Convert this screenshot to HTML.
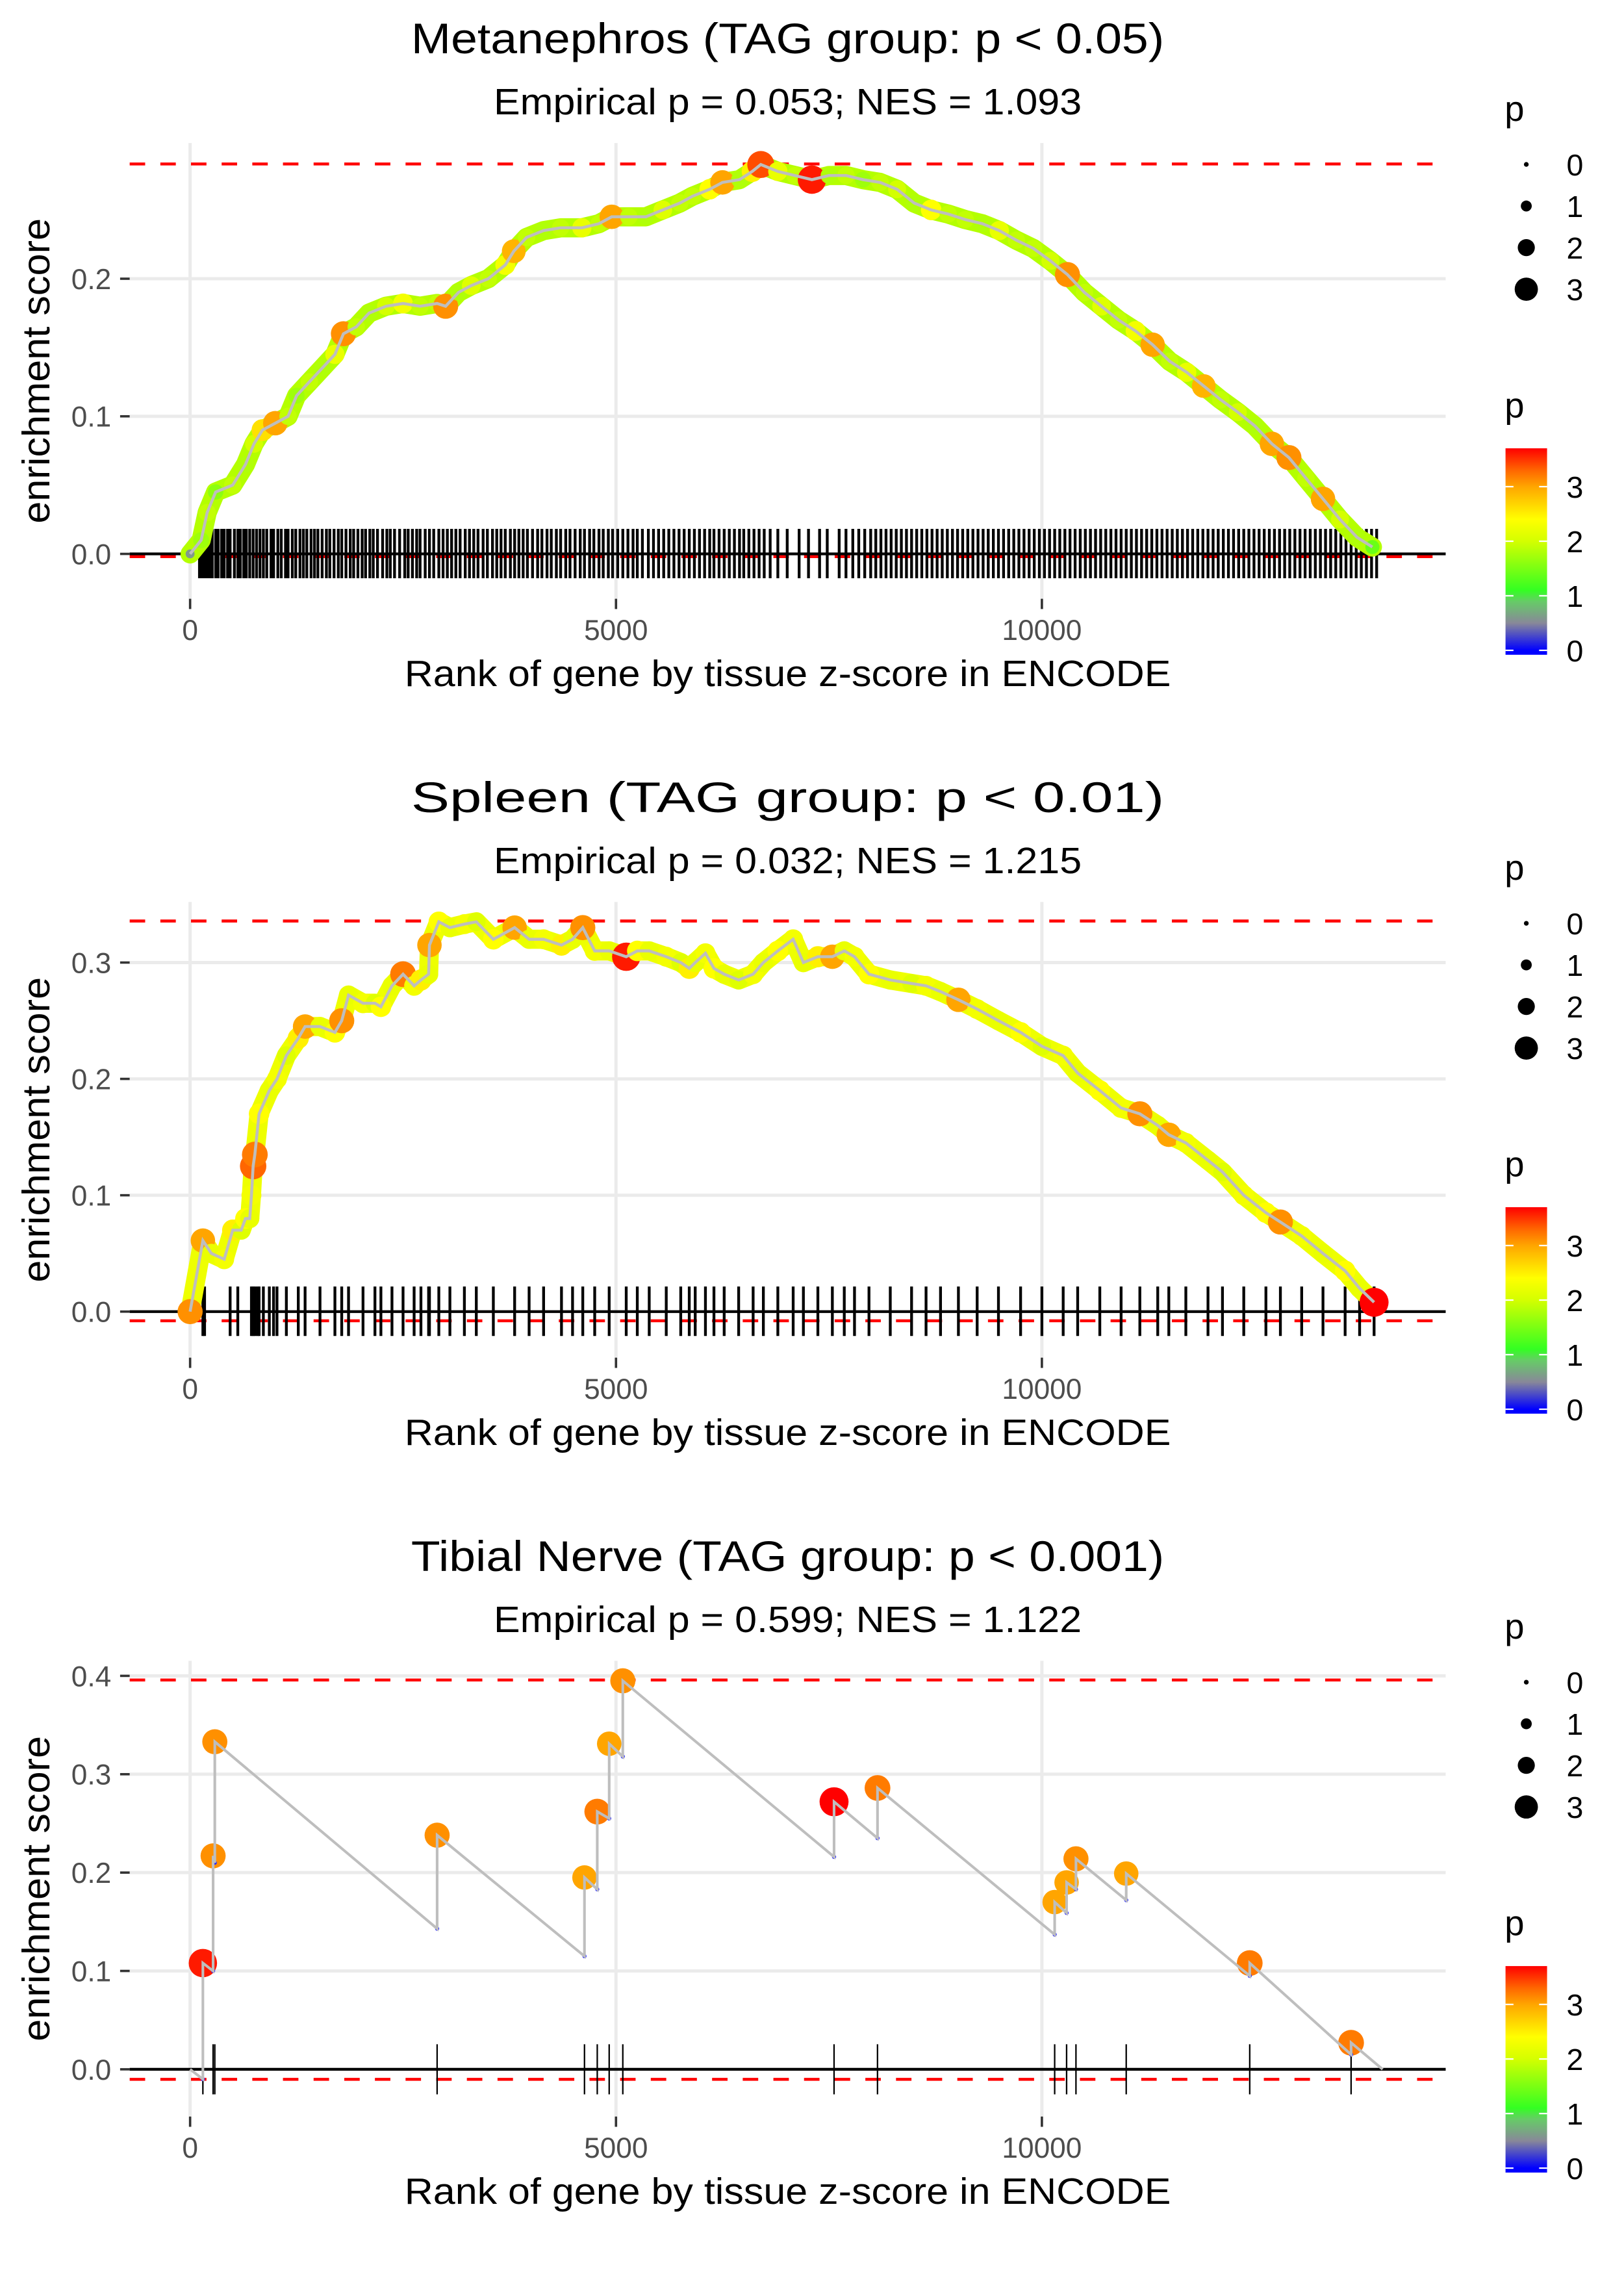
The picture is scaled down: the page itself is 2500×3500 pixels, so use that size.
<!DOCTYPE html>
<html><head><meta charset="utf-8"><title>Enrichment plots</title>
<style>html,body{margin:0;padding:0;background:#fff}svg{display:block}text{font-family:"Liberation Sans",sans-serif}</style>
</head><body>
<svg id="chart" xmlns="http://www.w3.org/2000/svg" width="2500" height="3500" viewBox="0 0 1102 1542" preserveAspectRatio="none"></svg>
<script>
const titles = ["Metanephros (TAG group: p < 0.05)", "Spleen (TAG group: p < 0.01)", "Tibial Nerve (TAG group: p < 0.001)"];
const subtitles = ["Empirical p = 0.053; NES = 1.093", "Empirical p = 0.032; NES = 1.215", "Empirical p = 0.599; NES = 1.122"];
const xTicks = [0, 5000, 10000];
const xTickLabels = ["0", "5000", "10000"];
const yTicks1 = [0.0, 0.1, 0.2];
const yTicks2 = [0.0, 0.1, 0.2, 0.3];
const yTicks3 = [0.0, 0.1, 0.2, 0.3, 0.4];
const esMax = [0.2834, 0.3357, 0.3958];
const esMin = [-0.002, -0.0079, -0.0102];

const ranks1 = [0,130,200,300,500,650,750,850,1000,1150,1250,1400,1550,1700,1800,1950,2100,2300,2500,2700,2900,3000,3150,3300,3500,3700,3800,3950,4150,4350,4600,4800,4950,5150,5350,5550,5750,5900,6100,6250,6450,6600,6700,6900,7100,7300,7500,7700,7900,8100,8300,8500,8700,8900,9100,9300,9500,9700,9900,10100,10300,10500,10700,10900,11100,11300,11500,11700,11900,12100,12300,12500,12700,12900,13100,13300,13500,13700,13880];
const es1 = [0,.01,.03,.045,.05,.065,.08,.09,.095,.1,.115,.125,.135,.145,.16,.165,.175,.18,.182,.18,.182,.18,.19,.195,.2,.21,.22,.23,.235,.237,.237,.24,.245,.245,.245,.25,.255,.26,.265,.27,.272,.278,.283,.278,.275,.272,.275,.275,.272,.27,.265,.255,.25,.247,.243,.24,.235,.228,.222,.213,.203,.19,.18,.17,.162,.152,.14,.132,.122,.112,.103,.093,.08,.07,.055,.04,.025,.012,.005];
const p1 = [0.6,1.7,1.9,1.6,1.9,1.8,2.0,2.6,3.0,1.9,1.7,1.9,1.8,2.2,3.1,1.9,1.8,2.0,2.3,1.9,1.9,3.1,1.8,2.1,1.9,2.3,2.9,1.9,1.8,1.9,2.2,1.9,3.0,1.9,1.8,2.1,1.9,1.9,2.4,3.0,1.8,2.5,3.4,2.2,1.9,3.6,1.8,1.9,1.7,1.9,2.0,1.8,2.4,1.9,1.9,1.8,2.2,1.9,1.9,2.0,3.1,1.9,2.1,1.9,2.3,3.0,1.9,2.2,2.9,1.9,2.0,1.8,3.0,3.1,1.9,3.0,2.0,1.8,1.4];
const rug1 = [110,140,170,200,230,260,300,330,370,400,440,470,520,560,590,630,660,700,740,780,820,860,900,950,980,1030,1070,1120,1150,1200,1240,1290,1330,1370,1420,1460,1500,1550,1600,1640,1690,1740,1780,1830,1880,1920,1970,2020,2060,2110,2150,2200,2260,2310,2350,2400,2460,2520,2560,2610,2660,2700,2760,2810,2860,2920,2970,3020,3070,3120,3170,3230,3280,3330,3380,3440,3490,3550,3600,3650,3700,3760,3810,3860,3910,3960,4020,4080,4130,4190,4240,4300,4350,4410,4460,4520,4580,4630,4690,4740,4800,4850,4910,4960,5020,5080,5140,5200,5250,5310,5380,5440,5500,5560,5620,5680,5740,5800,5860,5920,5980,6040,6100,6150,6210,6270,6330,6390,6450,6500,6560,6620,6680,6740,6810,6900,7010,7150,7260,7390,7480,7620,7700,7780,7850,7920,7990,8050,8110,8170,8230,8290,8350,8410,8470,8530,8590,8650,8710,8770,8830,8890,8950,9010,9070,9130,9190,9250,9310,9370,9430,9490,9550,9610,9670,9730,9790,9850,9910,9970,10030,10090,10150,10210,10270,10330,10390,10450,10510,10570,10630,10690,10750,10810,10870,10930,10990,11050,11110,11170,11230,11290,11350,11410,11470,11530,11590,11650,11710,11770,11830,11890,11950,12010,12070,12130,12190,12250,12310,12370,12430,12490,12550,12610,12670,12730,12790,12850,12910,12970,13030,13090,13150,13210,13270,13330,13390,13450,13510,13570,13630,13690,13750,13810,13870,13930];

const ranks2 = [0,150,250,400,500,600,650,700,720,740,760,810,930,1020,1130,1270,1350,1525,1700,1780,1860,2030,2170,2240,2370,2500,2630,2710,2800,2810,2920,3050,3220,3360,3560,3810,3980,4150,4360,4490,4610,4750,4920,5120,5250,5390,5590,5760,5860,5930,6050,6150,6270,6440,6610,6730,6900,7080,7200,7370,7540,7680,7800,7970,8220,8470,8640,8810,9020,9240,9490,9750,10000,10250,10420,10680,10930,11150,11360,11490,11690,11950,12120,12370,12630,12800,13050,13300,13560,13730,13900];
const es2 = [0,.061,.05,.045,.07,.07,.08,.08,.1,.125,.135,.17,.19,.2,.22,.235,.245,.245,.24,.25,.272,.265,.265,.262,.28,.29,.28,.285,.29,.315,.335,.33,.333,.335,.32,.33,.32,.32,.315,.32,.33,.31,.31,.305,.31,.31,.305,.3,.295,.3,.308,.295,.29,.285,.29,.3,.31,.32,.3,.305,.305,.31,.305,.29,.285,.282,.28,.275,.268,.26,.25,.24,.228,.22,.205,.19,.175,.17,.16,.152,.145,.13,.12,.1,.085,.077,.065,.05,.035,.02,.008];
const p2 = [3.1,3.0,2.2,2.3,2.5,2.1,2.4,2.2,2.3,3.3,3.2,2.4,2.2,2.3,2.1,2.5,3.0,2.2,2.4,3.1,2.2,2.3,2.1,2.4,2.2,3.2,2.3,2.5,2.2,3.0,2.4,2.2,2.3,2.1,2.4,3.0,2.2,2.3,2.5,2.2,3.1,2.3,2.2,3.6,2.4,2.2,2.3,2.1,2.5,2.2,2.3,2.4,2.2,2.1,2.3,2.2,2.4,2.3,2.2,2.5,3.0,2.2,2.3,2.4,2.2,2.1,2.3,2.2,3.0,2.3,2.2,2.4,2.1,2.3,2.2,2.4,2.3,3.1,2.2,3.0,2.3,2.2,2.1,2.3,2.4,3.1,2.3,2.2,2.4,2.2,3.7];
const rug2 = [150,170,470,560,720,740,760,790,810,860,930,980,1020,1130,1270,1350,1525,1700,1780,1860,2030,2170,2240,2370,2500,2630,2710,2800,2810,2920,3050,3220,3360,3560,3810,3980,4150,4360,4490,4610,4750,4920,5120,5250,5390,5590,5760,5860,5930,6050,6150,6270,6440,6610,6730,6900,7080,7200,7370,7540,7680,7800,7970,8220,8470,8640,8810,9020,9240,9490,9750,10000,10250,10420,10680,10930,11150,11360,11490,11690,11950,12120,12370,12630,12800,13050,13300,13560,13730,13900];

const ranks3 = [150,270,290,2900,4630,4780,4920,5080,7560,8070,10150,10290,10400,10990,12440,13630];
const esLow3 = [-0.01,0.10,0.21,0.143,0.115,0.183,0.255,0.318,0.216,0.235,0.137,0.159,0.183,0.172,0.095,0.015];
const esHigh3 = [0.108,0.217,0.333,0.238,0.195,0.262,0.331,0.395,0.272,0.286,0.170,0.190,0.214,0.199,0.108,0.027];
const p3 = [3.6,3.1,3.1,3.1,3.0,3.2,3.0,3.1,3.7,3.2,3.0,3.0,3.1,3.0,3.2,3.2];
const endRank3 = 14000;

const sizeLegendValues = [0, 1, 2, 3];
const colorLegendValues = [0, 1, 2, 3];

const NS = "http://www.w3.org/2000/svg";
const svg = document.getElementById("chart");
function el(tag, attrs, parent) {
  const e = document.createElementNS(NS, tag);
  for (const k in attrs) e.setAttribute(k, attrs[k]);
  (parent || svg).appendChild(e);
  return e;
}
const colorStops = [[0,[0,0,255]],[0.5,[136,136,153]],[0.9,[102,204,102]],[1.1,[51,255,34]],[2.0,[212,255,0]],[2.4,[255,255,0]],[3.0,[255,165,0]],[3.3,[255,102,0]],[3.7,[255,0,0]]];
function pColor(p) {
  if (p <= colorStops[0][0]) return "rgb(0,0,255)";
  for (let i = 1; i < colorStops.length; i++) {
    if (p <= colorStops[i][0]) {
      const a = colorStops[i-1], b = colorStops[i], t = (p - a[0]) / (b[0] - a[0]);
      const c = a[1].map((v, j) => Math.round(v + (b[1][j] - v) * t));
      return "rgb(" + c.join(",") + ")";
    }
  }
  return "rgb(255,0,0)";
}
function pRadius(p) { return 1.7 + 2.2 * p; }

const defs = el("defs", {});
const grad = el("linearGradient", {id: "pgrad", x1: "0", y1: "1", x2: "0", y2: "0"}, defs);
colorStops.forEach(s => {
  el("stop", {offset: ((s[0] + 0.08) / 3.78).toFixed(4), "stop-color": "rgb(" + s[1].join(",") + ")"}, grad);
});

const PERIOD = 514.6;
const L = 88, R = 981;
const xScale = r => 129 + r * 0.0578;
const panelY = [{zero: 375.6, k: 933}, {zero: 889.4, k: 789}, {zero: 1403.2, k: 667}];
const yTicksAll = [yTicks1, yTicks2, yTicks3];

function drawPanel(i, draw) {
  const off = i * PERIOD;
  const {zero, k} = panelY[i];
  const y = v => zero - v * k;
  const g = el("g", {});
  
  
  const top = 97 + off, bot = 405.7 + off;
  yTicksAll[i].forEach(t => {
    if (t === 0) return;
    const gl = el("line", {x1: L, x2: R, y1: y(t), y2: y(t), stroke: "#ebebeb", "stroke-width": 2.2}, g);
    
    
  });
  xTicks.forEach(t => {
    const gl = el("line", {x1: xScale(t), x2: xScale(t), y1: top, y2: bot, stroke: "#ebebeb", "stroke-width": 2.2}, g);
    
    
  });
  [esMax[i], esMin[i]].forEach((v, j) => {
    const dl = el("line", {x1: L, x2: R, y1: y(v), y2: y(v), stroke: "#ff0000", "stroke-width": 2, "stroke-dasharray": "10.5 10.3"}, g);
    
    
  });
  const zl = el("line", {x1: L, x2: R, y1: zero, y2: zero, stroke: "#000", "stroke-width": 1.9}, g);
  
  
  draw(g, y, zero);
  yTicksAll[i].forEach(t => {
    const tm = el("line", {x1: 81.5, x2: 88, y1: y(t), y2: y(t), stroke: "#333", "stroke-width": 1.6}, g);
    
    
    const tl = el("text", {x: 75.5, y: y(t) + 7, "text-anchor": "end", "font-size": 19.5, fill: "#4d4d4d"}, g);
    tl.textContent = t.toFixed(1);
    
    
  });
  xTicks.forEach((t, j) => {
    const tm = el("line", {x1: xScale(t), x2: xScale(t), y1: 406 + off, y2: 413 + off, stroke: "#333", "stroke-width": 1.6}, g);
    
    
    const tl = el("text", {x: xScale(t), y: 434 + off, "text-anchor": "middle", "font-size": 19.5, fill: "#4d4d4d"}, g);
    tl.textContent = xTickLabels[j];
    
    
  });
  const tt = el("text", {x: 534.5, y: 36.2 + off, "text-anchor": "middle", "font-size": 29, textLength: 511, lengthAdjust: "spacingAndGlyphs"}, g);
  tt.textContent = titles[i];
  
  
  const st = el("text", {x: 534.5, y: 77.6 + off, "text-anchor": "middle", "font-size": 25, textLength: 399, lengthAdjust: "spacingAndGlyphs"}, g);
  st.textContent = subtitles[i];
  
  
  const xl = el("text", {x: 534.5, y: 465.3 + off, "text-anchor": "middle", "font-size": 25, textLength: 520, lengthAdjust: "spacingAndGlyphs"}, g);
  xl.textContent = "Rank of gene by tissue z-score in ENCODE";
  
  
  const yl = el("text", {x: 0, y: 0, "text-anchor": "middle", "font-size": 26, textLength: 207, lengthAdjust: "spacingAndGlyphs", transform: "translate(33.5," + (251.5 + off) + ") rotate(-90)"}, g);
  yl.textContent = "enrichment score";
  
  
  const sl = el("g", {}, g);
  
  
  const sp = el("text", {x: 1021, y: 82 + off, "font-size": 24}, sl);
  sp.textContent = "p";
  
  
  sizeLegendValues.forEach((v, j) => {
    const cy = 111.5 + j * 28.2 + off;
    const c = el("circle", {cx: 1035.7, cy: cy, r: pRadius(v) * 0.95, fill: "#000"}, sl);
    
    
    const t = el("text", {x: 1063, y: cy + 7.5, "font-size": 20.5}, sl);
    t.textContent = String(v);
    
    
  });
  const cl = el("g", {}, g);
  
  
  const cp = el("text", {x: 1021, y: 283 + off, "font-size": 24}, cl);
  cp.textContent = "p";
  
  
  const bar = el("rect", {x: 1021.6, y: 304 + off, width: 28.2, height: 140, fill: "url(#pgrad)"}, cl);
  
  
  colorLegendValues.forEach(v => {
    const cy = 441 - v * 37 + off;
    [[1021.6, 1027], [1044.4, 1049.8]].forEach(seg => {
      const tk = el("line", {x1: seg[0], x2: seg[1], y1: cy, y2: cy, stroke: "#fff", "stroke-width": 1}, cl);
      
      
    });
    const t = el("text", {x: 1063, y: cy + 7.5, "font-size": 20.5}, cl);
    t.textContent = String(v);
    
    
  });
}

function drawDense(ranks, es, ps, rug, bandColor) {
  return function (g, y, zero) {
    rug.forEach(r => {
      const l = el("line", {x1: xScale(r), x2: xScale(r), y1: zero - 17, y2: zero + 16.5, stroke: "#000", "stroke-width": 1.9}, g);
      
      
    });
    const pts = ranks.map((r, j) => xScale(r).toFixed(2) + "," + y(es[j]).toFixed(2)).join(" ");
    const band = el("polyline", {points: pts, fill: "none", stroke: bandColor, "stroke-width": 13, "stroke-linejoin": "round", "stroke-linecap": "round"}, g);
    
    
    ranks.forEach((r, j) => {
      const c = el("circle", {cx: xScale(r), cy: y(es[j]), r: pRadius(ps[j]), fill: pColor(ps[j])}, g);
      
      
    });
    const pl = el("polyline", {points: pts, fill: "none", stroke: "#bebebe", "stroke-width": 2}, g);
    
    
  };
}

drawPanel(0, drawDense(ranks1, es1, p1, rug1, "#b4ff00"));
drawPanel(1, drawDense(ranks2, es2, p2, rug2, "#eeff00"));
drawPanel(2, function (g, y, zero) {
  ranks3.forEach(r => {
    const l = el("line", {x1: xScale(r), x2: xScale(r), y1: zero - 17, y2: zero + 17, stroke: "#000", "stroke-width": 1}, g);
    
    
  });
  ranks3.forEach((r, j) => {
    const c = el("circle", {cx: xScale(r), cy: y(esHigh3[j]), r: pRadius(p3[j]), fill: pColor(p3[j])}, g);
    
    
    const d = el("circle", {cx: xScale(r), cy: y(esLow3[j]), r: 1.4, fill: "#3030ff"}, g);
    
    
  });
  const pts = [xScale(0) + "," + y(0)];
  ranks3.forEach((r, j) => {
    pts.push(xScale(r).toFixed(2) + "," + y(esLow3[j]).toFixed(2));
    pts.push(xScale(r).toFixed(2) + "," + y(esHigh3[j]).toFixed(2));
  });
  pts.push(xScale(endRank3).toFixed(2) + "," + y(0).toFixed(2));
  const pl = el("polyline", {points: pts.join(" "), fill: "none", stroke: "#bebebe", "stroke-width": 1.8}, g);
  
  
});
</script>
</body></html>
